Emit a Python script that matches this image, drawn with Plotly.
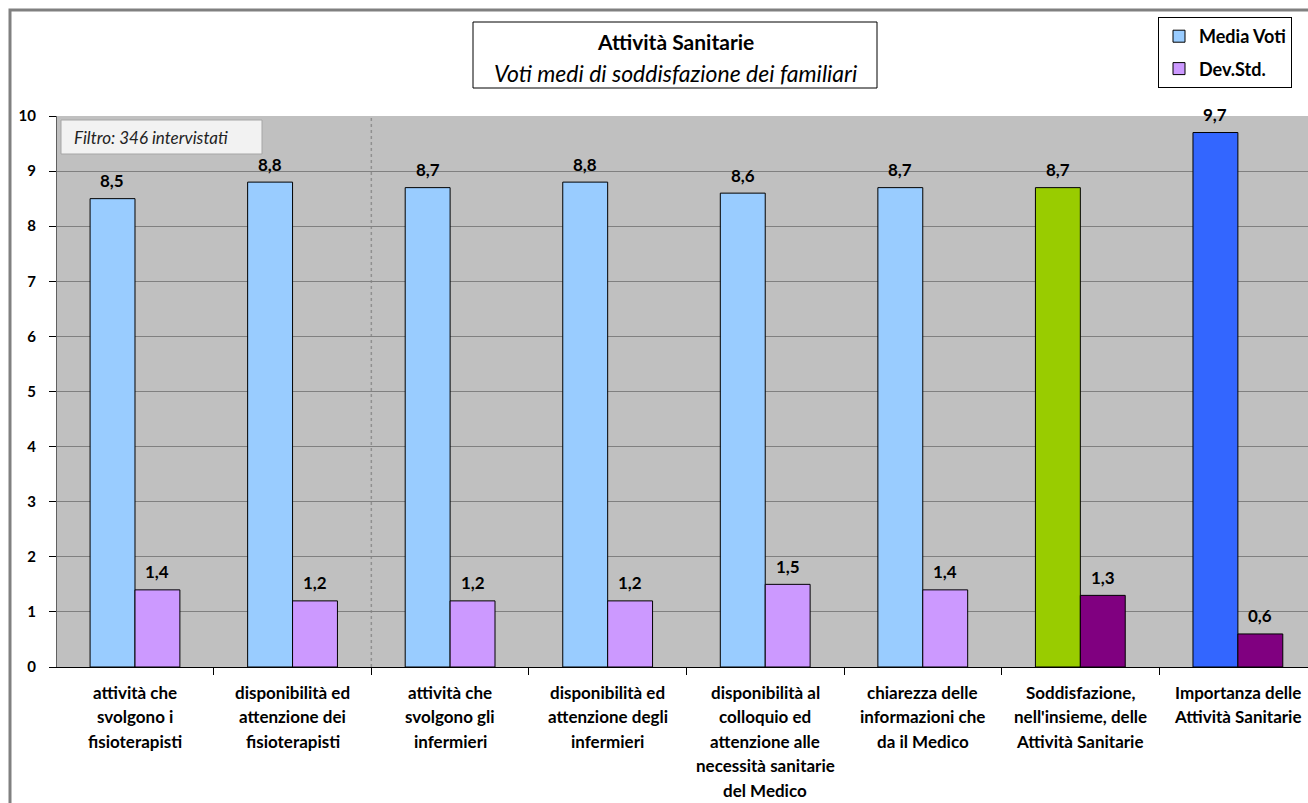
import plotly.graph_objects as go

# ---------------- data ----------------
category_lines = [
    ["attività che", "svolgono i", "fisioterapisti"],
    ["disponibilità ed", "attenzione dei", "fisioterapisti"],
    ["attività che", "svolgono gli", "infermieri"],
    ["disponibilità ed", "attenzione degli", "infermieri"],
    ["disponibilità al", "colloquio ed", "attenzione alle", "necessità sanitarie", "del Medico"],
    ["chiarezza delle", "informazioni che", "da il Medico"],
    ["Soddisfazione,", "nell'insieme, delle", "Attività Sanitarie"],
    ["Importanza delle", "Attività Sanitarie"],
]
categories = [" ".join(l) for l in category_lines]
media_voti = [8.5, 8.8, 8.7, 8.8, 8.6, 8.7, 8.7, 9.7]
dev_std = [1.4, 1.2, 1.2, 1.2, 1.5, 1.4, 1.3, 0.6]
media_colors = ["#99CCFF"] * 6 + ["#99CC00", "#3366FF"]
dev_colors = ["#CC99FF"] * 6 + ["#800080", "#800080"]
y_ticks = list(range(0, 11))

title_text = "Attività Sanitarie"
subtitle_text = "Voti medi di soddisfazione dei familiari"
filter_text = "Filtro: 346 intervistati"

FONT = "Lato"

# ---------------- layout geometry (pixels) ----------------
W, H = 1308, 803
L, R, T, B = 57, 0, 116, 136
PW = W - L - R
PH = H - T - B


def px_x(p):
    return (p - L) / PW


def px_y(p):
    return (H - B - p) / PH


fig = go.Figure()
fig.add_trace(go.Bar(
    x=categories, y=media_voti, name="Media Voti",
    marker=dict(color=media_colors, line=dict(color="#000000", width=1)),
    legendgroup="a",
))
fig.add_trace(go.Bar(
    x=categories, y=dev_std, name="Dev.Std.",
    marker=dict(color=dev_colors, line=dict(color="#000000", width=1)),
    legendgroup="b",
))

annotations = []
# value labels
for i, c in enumerate(categories):
    for vals, shift in ((media_voti, -22.5), (dev_std, 22.5)):
        annotations.append(dict(
            x=c, y=vals[i], xref="x", yref="y", xshift=shift, yshift=18,
            text="<b>" + f"{vals[i]:.1f}".replace(".", ",") + "</b>",
            showarrow=False, yanchor="middle", xanchor="center",
            font=dict(family=FONT, size=17, color="#000000"),
        ))
# category labels (multi-line)
for c, lines in zip(categories, category_lines):
    for j, line in enumerate(lines):
        annotations.append(dict(
            x=c, y=0, xref="x", yref="paper", yshift=-(25 + j * 24.5),
            text="<b>" + line + "</b>", showarrow=False,
            yanchor="middle", xanchor="center",
            font=dict(family=FONT, size=17, color="#000000"),
        ))
# title box texts
annotations.append(dict(
    x=px_x(675), y=px_y(42), xref="paper", yref="paper",
    text="<b>" + title_text + "</b>", showarrow=False,
    xanchor="center", yanchor="middle",
    font=dict(family=FONT, size=21, color="#000000"),
))
annotations.append(dict(
    x=px_x(675), y=px_y(73), xref="paper", yref="paper",
    text="<i>" + subtitle_text + "</i>", showarrow=False,
    xanchor="center", yanchor="middle",
    font=dict(family=FONT, size=23, color="#000000"),
))
# filter text
annotations.append(dict(
    x=px_x(72), y=px_y(137), xref="paper", yref="paper",
    xanchor="left", yanchor="middle",
    text="<i>" + filter_text + "</i>", showarrow=False,
    font=dict(family=FONT, size=17, color="#222222"),
))

shapes = [
    # outer frame
    dict(type="rect", xref="paper", yref="paper",
         x0=px_x(10), x1=px_x(1330), y0=px_y(830), y1=px_y(10),
         line=dict(color="#808080", width=3), layer="below"),
    # title box
    dict(type="rect", xref="paper", yref="paper",
         x0=px_x(473), x1=px_x(877), y0=px_y(88), y1=px_y(22),
         line=dict(color="#000000", width=1), fillcolor="#FFFFFF"),
    # filter box
    dict(type="rect", xref="paper", yref="paper",
         x0=px_x(61), x1=px_x(262), y0=px_y(154), y1=px_y(120),
         line=dict(color="#A6A6A6", width=1), fillcolor="#F2F2F2"),
    # dashed separator
    dict(type="line", xref="x", yref="y", x0=1.5, x1=1.5, y0=0, y1=10,
         line=dict(color="#909090", width=1.5, dash="dot"), layer="below"),
]

fig.update_layout(
    width=W, height=H,
    margin=dict(l=L, r=R, t=T, b=B, pad=0),
    paper_bgcolor="#FFFFFF",
    plot_bgcolor="#C0C0C0",
    barmode="group", bargap=0.43, bargroupgap=0,
    font=dict(family=FONT, size=14, color="#000000"),
    showlegend=True,
    legend=dict(
        x=px_x(1158), y=px_y(17), xanchor="left", yanchor="top",
        bgcolor="#FFFFFF", bordercolor="#000000", borderwidth=1,
        font=dict(family=FONT, size=18, color="#000000", weight="bold"),
        tracegroupgap=6, traceorder="grouped",
    ),
    annotations=annotations,
    shapes=shapes,
)
fig.update_xaxes(
    type="category", range=[-0.495, 7.445],
    showticklabels=False, ticks="outside", tickson="boundaries",
    ticklen=7, tickcolor="#000000", showline=True, linecolor="#000000",
    linewidth=1, showgrid=False, zeroline=False,
)
fig.update_yaxes(
    range=[0, 10], tickvals=y_ticks, ticks="outside", ticklen=7,
    tickcolor="#000000", showline=True, linecolor="#606060", linewidth=1,
    showgrid=True, gridcolor="#808080", gridwidth=1, zeroline=False,
    tickfont=dict(family=FONT, size=15, color="#000000", weight="bold"),
    ticklabelstandoff=10,
)

fig.write_html("out.html")
